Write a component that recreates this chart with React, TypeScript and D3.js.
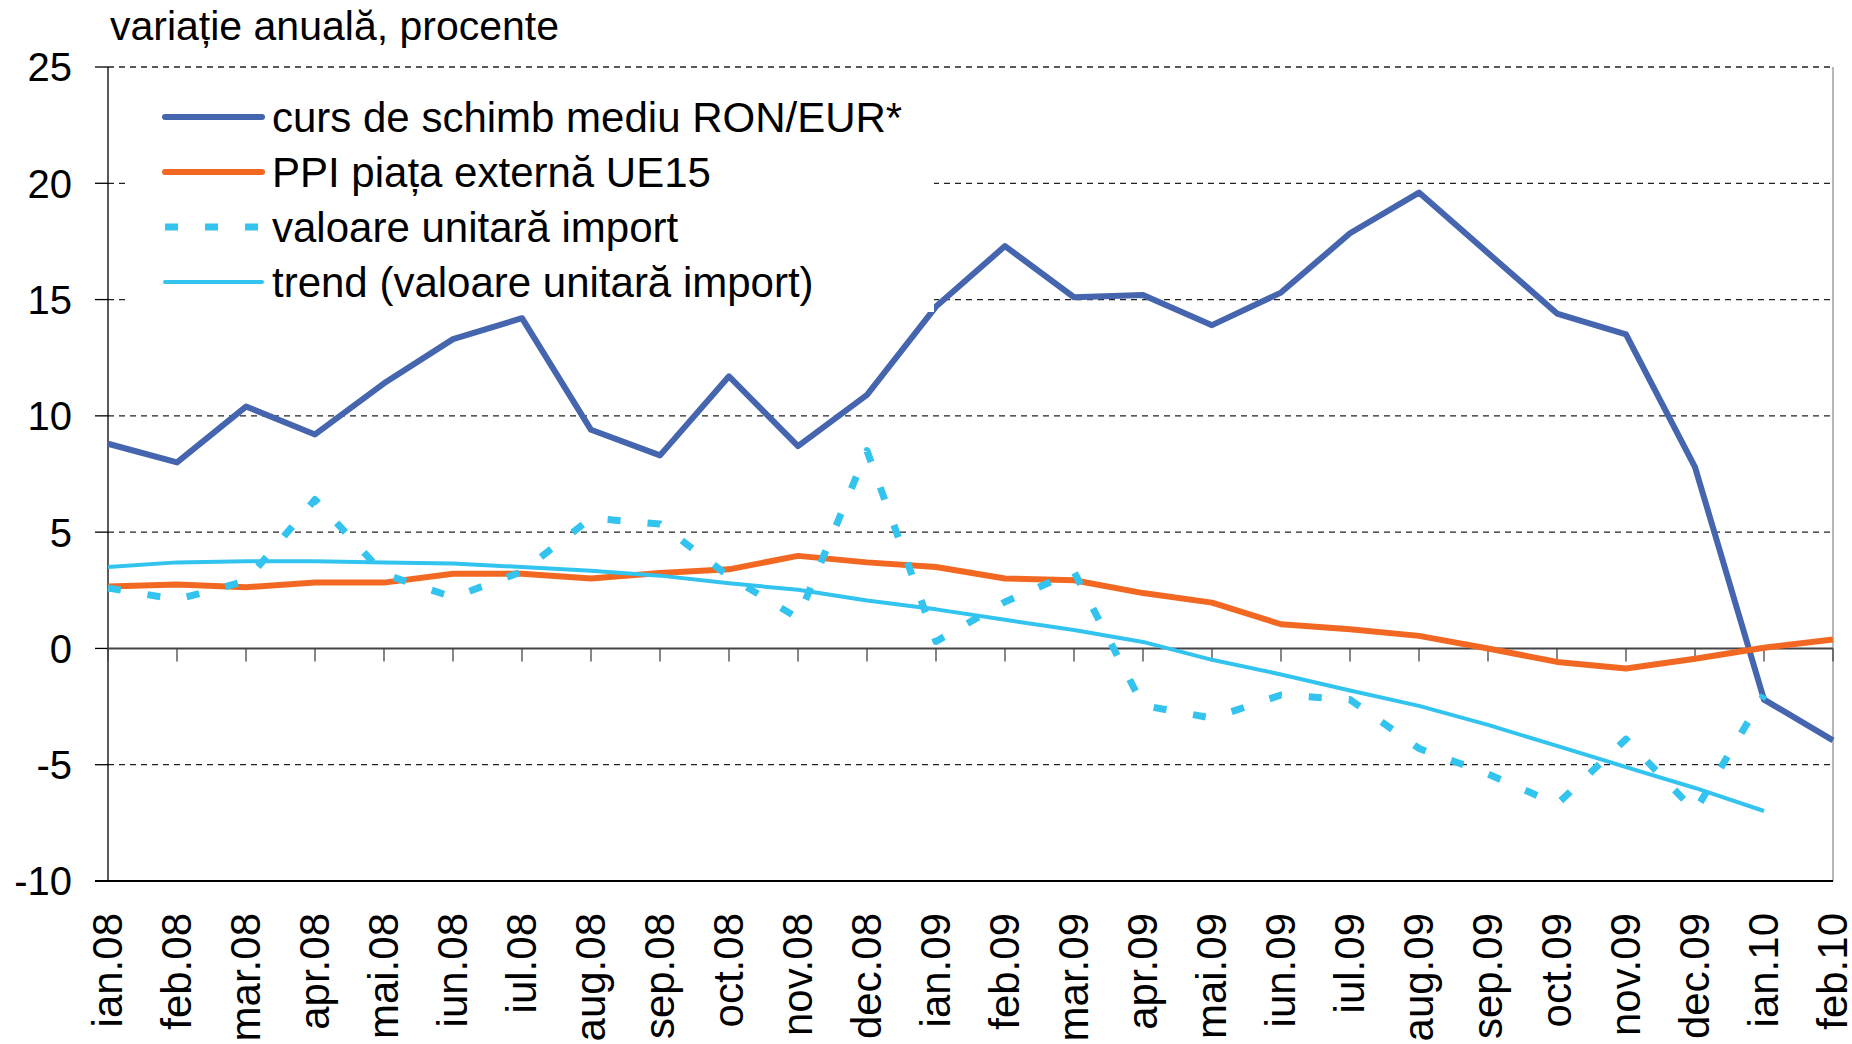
import * as d3 from 'd3'
import React from 'react'

const months = [
  'ian.08', 'feb.08', 'mar.08', 'apr.08', 'mai.08', 'iun.08', 'iul.08', 'aug.08', 'sep.08',
  'oct.08', 'nov.08', 'dec.08', 'ian.09', 'feb.09', 'mar.09', 'apr.09', 'mai.09', 'iun.09',
  'iul.09', 'aug.09', 'sep.09', 'oct.09', 'nov.09', 'dec.09', 'ian.10', 'feb.10',
]

// curs de schimb mediu RON/EUR*
const cursRonEur = [
  8.8, 8.0, 10.4, 9.2, 11.4, 13.3, 14.2, 9.4, 8.3, 11.7, 8.7, 10.9, 14.7,
  17.3, 15.1, 15.2, 13.9, 15.3, 17.85, 19.6, 17.0, 14.4, 13.5, 7.8, -2.2, -3.95,
]
// PPI piata externa UE15
const ppiUe15 = [
  2.66, 2.75, 2.63, 2.83, 2.83, 3.21, 3.21, 3.01, 3.24, 3.4, 3.98, 3.7, 3.5,
  3.01, 2.93, 2.38, 1.97, 1.04, 0.82, 0.54, 0.0, -0.58, -0.86, -0.44, 0.03, 0.38,
]
// valoare unitara import (no value for feb.10)
const valoareImport = [
  2.6, 2.1, 2.9, 6.4, 3.2, 2.2, 3.3, 5.6, 5.35, 3.1, 1.3, 8.5, 0.3,
  2.0, 3.3, -2.45, -3.0, -2.0, -2.2, -4.3, -5.4, -6.7, -3.9, -7.0, -2.0, null,
]
// trend (valoare unitara import)
const trendImport = [
  3.5, 3.7, 3.75, 3.75, 3.7, 3.65, 3.5, 3.34, 3.13, 2.8, 2.52, 2.06, 1.68,
  1.23, 0.79, 0.28, -0.49, -1.12, -1.81, -2.47, -3.29, -4.19, -5.1, -6.0, -6.99, null,
]

const yTicks = [25, 20, 15, 10, 5, 0, -5, -10]
const title = 'variație anuală, procente'

const legendItems = [
  { label: 'curs de schimb mediu RON/EUR*', color: '#4565ae', width: 6, dash: null },
  { label: 'PPI piața externă UE15', color: '#f26822', width: 6, dash: null },
  { label: 'valoare unitară import', color: '#33c3ef', width: 7, dash: '13 27' },
  { label: 'trend (valoare unitară import)', color: '#33c3ef', width: 4, dash: null },
]

const FONT = '"Liberation Sans", Arial, sans-serif'

const W = 1852
const H = 1044
const left = 108
const right = 1833
const top = 67
const bottom = 881

const App = () => {
  const x = d3.scalePoint<string>().domain(months).range([left, right]).padding(0)
  const y = d3.scaleLinear().domain([-10, 25]).range([bottom, top])

  const line = d3
    .line<number | null>()
    .defined((d) => d !== null)
    .x((_, i) => x(months[i]) as number)
    .y((d) => y(d as number))

  const series = [cursRonEur, ppiUe15, valoareImport, trendImport]

  return (
    <svg
      width={W}
      height={H}
      style={{ position: 'absolute', left: 0, top: 0, background: '#fff' }}
      fontFamily={FONT}
    >
      <rect x={0} y={0} width={W} height={H} fill="#fff" />

      {/* title */}
      <text x={110} y={40} fontSize={41} fill="#000">
        {title}
      </text>

      {/* gridlines */}
      {yTicks
        .filter((t) => t !== 0 && t !== -10)
        .map((t) => (
          <line
            key={'g' + t}
            x1={left}
            x2={right}
            y1={y(t)}
            y2={y(t)}
            stroke="#222"
            strokeWidth={1.3}
            strokeDasharray="6 5"
          />
        ))}

      {/* right border */}
      <line x1={right} x2={right} y1={top} y2={bottom} stroke="#888" strokeWidth={1.2} />

      {/* y axis */}
      <line x1={left} x2={left} y1={top} y2={bottom} stroke="#000" strokeWidth={1.3} />
      {yTicks.map((t) => (
        <g key={'yt' + t}>
          <line x1={left - 13} x2={left} y1={y(t)} y2={y(t)} stroke="#000" strokeWidth={1.3} />
          <text
            x={72}
            y={y(t)}
            dy="0.36em"
            textAnchor="end"
            fontSize={40}
            fill="#000"
          >
            {t}
          </text>
        </g>
      ))}

      {/* bottom line at -10 */}
      <line x1={left - 13} x2={right} y1={bottom} y2={bottom} stroke="#000" strokeWidth={2} />

      {/* zero axis with category ticks */}
      <line x1={left} x2={right} y1={y(0)} y2={y(0)} stroke="#444" strokeWidth={2} />
      {months.map((m) => (
        <line
          key={'xt' + m}
          x1={x(m)}
          x2={x(m)}
          y1={y(0)}
          y2={y(0) + 13}
          stroke="#444"
          strokeWidth={1.3}
        />
      ))}

      {/* x labels */}
      {months.map((m) => (
        <text
          key={'xl' + m}
          transform={`translate(${x(m)},913) rotate(-90)`}
          dy="0.34em"
          textAnchor="end"
          fontSize={42}
          fill="#000"
        >
          {m}
        </text>
      ))}

      {/* series */}
      {series.map((s, i) => (
        <path
          key={'s' + i}
          d={line(s) || ''}
          fill="none"
          stroke={legendItems[i].color}
          strokeWidth={legendItems[i].width}
          strokeDasharray={legendItems[i].dash || undefined}
          strokeLinejoin="round"
        />
      ))}

      {/* legend */}
      <rect x={128} y={78} width={806} height={234} fill="#fff" />
      {legendItems.map((it, i) => {
        const ly = 117 + i * 55
        return (
          <g key={'lg' + i}>
            <line
              x1={165}
              x2={262}
              y1={ly}
              y2={ly}
              stroke={it.color}
              strokeWidth={it.width}
              strokeDasharray={it.dash || undefined}
              strokeLinecap={it.dash ? 'butt' : 'round'}
            />
            <text x={272} y={ly + 15} fontSize={42} fill="#000">
              {it.label}
            </text>
          </g>
        )
      })}
    </svg>
  )
}

export default App
